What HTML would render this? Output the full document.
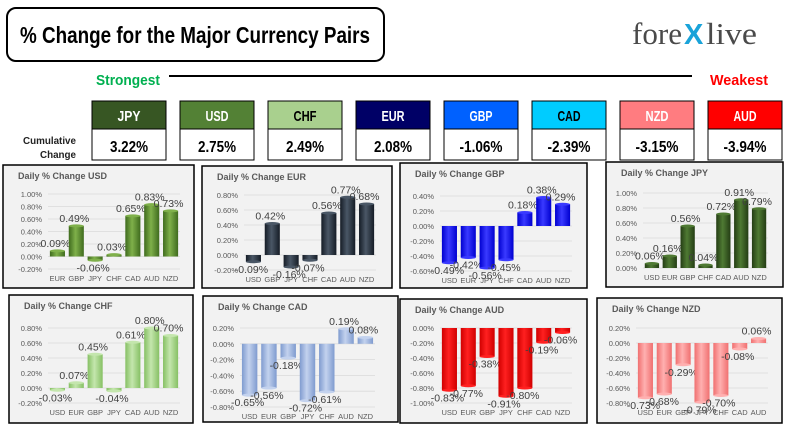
<!DOCTYPE html>
<html><head><meta charset="utf-8">
<style>
html,body{margin:0;padding:0;background:#fff;width:790px;height:438px;overflow:hidden}
svg text{font-family:"Liberation Sans",sans-serif}
</style></head><body>
<svg id="s" width="790" height="438" xmlns="http://www.w3.org/2000/svg">
<defs></defs>
<rect x="7" y="8" width="377" height="53" rx="9" fill="#fff" stroke="#000" stroke-width="2"/>
<text x="20" y="43" font-weight="bold" font-size="23" textLength="350" lengthAdjust="spacingAndGlyphs">% Change for the Major Currency Pairs</text>
<text x="632" y="44" font-family="Liberation Serif, serif" font-size="31" fill="#4a4a4a" style="font-family:'Liberation Serif',serif" textLength="50" lengthAdjust="spacingAndGlyphs">fore</text>
<text x="684" y="44" font-size="29" fill="#1aa3d9" font-weight="bold">X</text>
<text x="706" y="44" font-size="31" fill="#4a4a4a" style="font-family:'Liberation Serif',serif" textLength="51" lengthAdjust="spacingAndGlyphs">live</text>
<text x="96" y="85" font-weight="bold" font-size="15" fill="#00b050" textLength="64" lengthAdjust="spacingAndGlyphs">Strongest</text>
<line x1="169" y1="76" x2="692" y2="76" stroke="#000" stroke-width="2"/>
<text x="710" y="85" font-weight="bold" font-size="15" fill="#ff0000" textLength="58" lengthAdjust="spacingAndGlyphs">Weakest</text>
<text x="23" y="144" font-weight="bold" font-size="10" fill="#222" textLength="53" lengthAdjust="spacingAndGlyphs">Cumulative</text>
<text x="40" y="158" font-weight="bold" font-size="10" fill="#222" textLength="36" lengthAdjust="spacingAndGlyphs">Change</text>
<g id="g"></g>
</svg>
<script>
var g=document.getElementById('g'),defs=document.querySelector('defs');var h='';var d='';
var hdr=[["JPY","3.22%","#375623","#fff"],["USD","2.75%","#538135","#fff"],["CHF","2.49%","#a9d08e","#000"],["EUR","2.08%","#000066","#fff"],["GBP","-1.06%","#0061ff","#fff"],["CAD","-2.39%","#00ccff","#000"],["NZD","-3.15%","#ff7c80","#fff"],["AUD","-3.94%","#ff0000","#fff"]];
hdr.forEach(function(a,i){var x=92+88*i;
h+='<rect x="'+x+'" y="101" width="74" height="28" fill="'+a[2]+'" stroke="#000" stroke-width="1"/>';
h+='<rect x="'+x+'" y="129" width="74" height="31" fill="#fff" stroke="#000" stroke-width="1"/>';
h+='<text x="'+(x+37)+'" y="121" text-anchor="middle" font-weight="bold" font-size="15" fill="'+a[3]+'" textLength="23" lengthAdjust="spacingAndGlyphs">'+a[0]+'</text>';
var tl=a[1].length>5?43:38;
h+='<text x="'+(x+37)+'" y="152" text-anchor="middle" font-weight="bold" font-size="16" fill="#000" textLength="'+tl+'" lengthAdjust="spacingAndGlyphs">'+a[1]+'</text>';});
var charts=[
["USD",3,165,191,123,1.0,-0.2,29,104,45,177,["EUR","GBP","JPY","CHF","CAD","AUD","NZD"],[0.09,0.49,-0.06,0.03,0.65,0.83,0.73],"#3f6b1e","#7fb04a"],
["EUR",202,166,190,122,0.8,-0.2,29,104,42,174,["USD","GBP","JPY","CHF","CAD","AUD","NZD"],[-0.09,0.42,-0.16,-0.07,0.56,0.77,0.68],"#151c26","#4a5766"],
["GBP",400,163,187,125,0.4,-0.6,33,108,40,172,["USD","EUR","JPY","CHF","CAD","AUD","NZD"],[-0.49,-0.42,-0.56,-0.45,0.18,0.38,0.29],"#0000d0","#3a3aff"],
["JPY",606,162,177,125,1.0,0.0,31,106,37,162,["USD","EUR","GBP","CHF","CAD","AUD","NZD"],[0.06,0.16,0.56,0.04,0.72,0.91,0.79],"#243d14","#4f7a33"],
["CHF",9,295,184,128,0.8,-0.2,33,108,39,171,["USD","EUR","GBP","JPY","CAD","AUD","NZD"],[-0.03,0.07,0.45,-0.04,0.61,0.80,0.70],"#86c064","#c4e6ad"],
["CAD",203,296,195,126,0.2,-0.8,32,111,37,172,["USD","EUR","GBP","JPY","CHF","AUD","NZD"],[-0.65,-0.56,-0.18,-0.72,-0.61,0.19,0.08],"#7f9bcf","#c3d2ee"],
["AUD",400,299,187,124,0.0,-1.0,29,104,40,172,["USD","EUR","GBP","JPY","CHF","CAD","NZD"],[-0.83,-0.77,-0.38,-0.91,-0.80,-0.19,-0.06],"#d00000","#ff2020"],
["NZD",597,298,185,125,0.2,-0.8,30,105,39,171,["USD","EUR","GBP","JPY","CHF","CAD","AUD"],[-0.73,-0.68,-0.29,-0.79,-0.70,-0.08,0.06],"#f07070","#ffb0b0"]];
charts.forEach(function(c,k){
var X=c[1],Y=c[2],W=c[3],H=c[4],mx=c[5],mn=c[6],t=Y+c[7],b=Y+c[8],x0=X+c[9],x1=X+c[10];
d+='<linearGradient id="gr'+k+'" x1="0" x2="1" y1="0" y2="0"><stop offset="0" stop-color="'+c[13]+'"/><stop offset="0.45" stop-color="'+c[14]+'"/><stop offset="1" stop-color="'+c[13]+'"/></linearGradient>';
h+='<rect x="'+X+'" y="'+Y+'" width="'+W+'" height="'+H+'" fill="#f2f2f2" stroke="#000" stroke-width="1.5"/>';
h+='<text x="'+(X+15)+'" y="'+(Y+14)+'" font-size="9" font-weight="bold" fill="#595959">Daily % Change '+c[0]+'</text>';
var n=Math.round((mx-mn)/0.2);var sc=(b-t)/(mx-mn);
for(var i=0;i<=n;i++){var v=mx-0.2*i;var yy=t+i*(b-t)/n;
h+='<line x1="'+x0+'" x2="'+x1+'" y1="'+yy+'" y2="'+yy+'" stroke="#dadada" stroke-width="0.8"/>';
h+='<text x="'+(x0-6)+'" y="'+(yy+3)+'" text-anchor="end" font-size="7.5" fill="#595959">'+v.toFixed(2).replace('-0.00','0.00')+'%</text>';}
var sp=(x1-x0)/7,bw=sp*0.8,zy=t+mx*sc;
c[12].forEach(function(v,i){var cx=x0+sp*(i+0.5);var yv=zy-v*sc;var top=Math.min(zy,yv),hh=Math.max(Math.abs(yv-zy),2);
h+='<rect x="'+(cx-bw/2)+'" y="'+top+'" width="'+bw+'" height="'+hh+'" fill="url(#gr'+k+')"/>';
h+='<ellipse cx="'+cx+'" cy="'+yv+'" rx="'+(bw/2)+'" ry="1.5" fill="'+c[14]+'"/>';
var ly=v>=0?yv-4:yv+11;
h+='<text x="'+(cx-2)+'" y="'+ly+'" text-anchor="middle" font-size="10.5" fill="#404040">'+v.toFixed(2)+'%</text>';
h+='<text x="'+cx+'" y="'+(b+12)+'" text-anchor="middle" font-size="7.5" fill="#595959">'+c[11][i]+'</text>';});
});
defs.innerHTML=d;g.innerHTML=h;
</script>
</body></html>
